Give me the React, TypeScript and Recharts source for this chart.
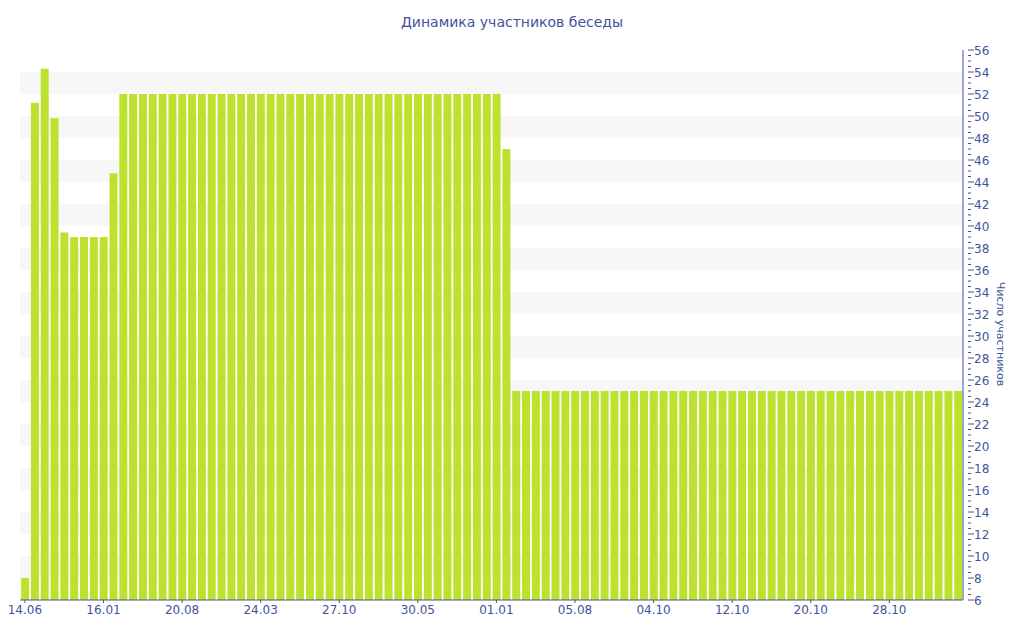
import { BarChart, Bar, XAxis, YAxis, CartesianGrid } from 'recharts'

const tickLabels = ['14.06', '16.01', '20.08', '24.03', '27.10', '30.05', '01.01', '05.08', '04.10', '12.10', '20.10', '28.10']

// participants per snapshot, left to right
const members = [
  8, 51.2, 54.3, 49.8, 39.4, 39, 39, 39, 39, 44.8,
  52, 52, 52, 52, 52, 52, 52, 52, 52, 52,
  52, 52, 52, 52, 52, 52, 52, 52, 52, 52,
  52, 52, 52, 52, 52, 52, 52, 52, 52, 52,
  52, 52, 52, 52, 52, 52, 52, 52, 52, 47,
  25, 25, 25, 25, 25, 25, 25, 25, 25, 25,
  25, 25, 25, 25, 25, 25, 25, 25, 25, 25,
  25, 25, 25, 25, 25, 25, 25, 25, 25, 25,
  25, 25, 25, 25, 25, 25, 25, 25, 25, 25,
  25, 25, 25, 25, 25, 25,
]

const majorTicks = [6, 8, 10, 12, 14, 16, 18, 20, 22, 24, 26, 28, 30, 32, 34, 36, 38, 40, 42, 44, 46, 48, 50, 52, 54, 56]
const Y_MIN = 6
const Y_MAX = 56

const data = members.map((v, i) => ({ idx: i, value: v }))
const xTicks = tickLabels.map((_, i) => i * 8)
const yTicks = Array.from({ length: 101 }, (_, i) => Y_MIN + i * 0.5)

const INK = '#42539c'
const FONT = 'Verdana, "DejaVu Sans", sans-serif'

function YTick({ x, y, payload }: any) {
  const v = payload.value
  const major = v % 2 === 0
  return (
    <g>
      <line x1={x - 3} x2={x + (major ? 3 : 0)} y1={y} y2={y} stroke={INK} strokeWidth={1} />
      {major && (
        <text x={x + 3} y={y} dy={4.5} fill={INK} fontSize={12} fontFamily={FONT}>{v}</text>
      )}
    </g>
  )
}

// stripes only on the labelled (every 2) ticks
const stripeRows = ({ offset }: any) =>
  majorTicks.map(t => offset.top + (offset.height * (Y_MAX - t)) / (Y_MAX - Y_MIN))

export default function App() {
  return (
    <div style={{ position: 'absolute', left: 0, top: 0, width: 1024, height: 640, background: '#fff' }}>
      <div style={{ position: 'absolute', top: 14, width: 1024, textAlign: 'center', color: INK, fontFamily: FONT, fontSize: 14 }}>
        Динамика участников беседы
      </div>
      <div style={{
        position: 'absolute', left: 1000, top: 334, transform: 'translate(-50%, -50%) rotate(90deg)',
        color: INK, fontFamily: FONT, fontSize: 11, whiteSpace: 'nowrap',
      }}>
        Число участников
      </div>
      <BarChart width={1024} height={640} data={data} margin={{ top: 50, right: 0, bottom: 10, left: 20 }}
        barCategoryGap="11%">
        <CartesianGrid stroke="transparent" vertical={false} horizontalFill={['#ffffff', '#f7f7f7']}
          horizontalCoordinatesGenerator={stripeRows} />
        <XAxis dataKey="idx" type="category" ticks={xTicks} interval={0} height={30}
          tickFormatter={(i: number) => tickLabels[i / 8]}
          axisLine={{ stroke: INK }} tickLine={{ stroke: INK }} tickSize={3}
          tick={{ fill: INK, fontSize: 12, fontFamily: FONT }} />
        <YAxis orientation="right" width={61} domain={[Y_MIN, Y_MAX]} ticks={yTicks} interval={0}
          allowDataOverflow axisLine={{ stroke: INK }} tickLine={false} tick={<YTick />} />
        <Bar dataKey="value" fill="#bde12f" isAnimationActive={false} />
      </BarChart>
    </div>
  )
}
